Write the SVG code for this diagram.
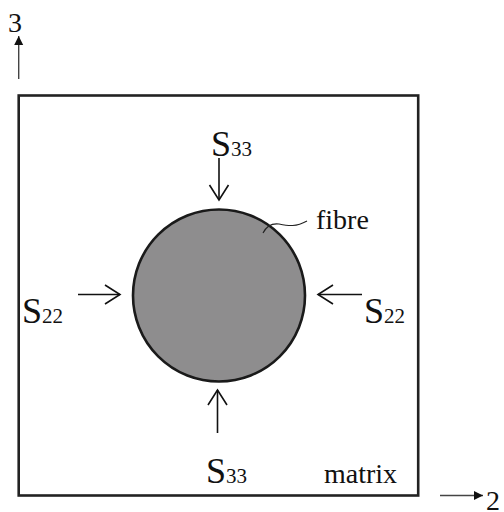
<svg xmlns="http://www.w3.org/2000/svg" width="504" height="512" viewBox="0 0 504 512">
<style>
.t{font-family:"Liberation Serif","Times New Roman",serif;fill:#111}
.s{font-size:36px}
.sub{font-size:21px}
.lbl{font-size:28px}
.load{stroke:#111;stroke-width:1.6;fill:none}
.axis{stroke:#444;stroke-width:1.4;fill:none}
</style>
<defs>
<marker id="open" markerUnits="userSpaceOnUse" markerWidth="24" markerHeight="24" viewBox="-18 -12 20 24" refX="0" refY="0" orient="auto">
<path d="M-15,-9.5 L0,0 L-15,9.5" fill="none" stroke="#111" stroke-width="1.6"/>
</marker>
<marker id="solid" markerUnits="userSpaceOnUse" markerWidth="12" markerHeight="12" viewBox="-10 -6 12 12" refX="0" refY="0" orient="auto">
<path d="M-9,-4.5 L0,0 L-9,4.5 Z" fill="#111"/>
</marker>
</defs>
<g id="matrix">
<rect x="18.7" y="95.5" width="399.5" height="400" fill="#fff" stroke="#222" stroke-width="2.6"/>
<text class="t lbl" x="324" y="483">matrix</text>
</g>
<g id="fibre">
<circle cx="219" cy="295.5" r="86" fill="#8e8d8e" stroke="#1a1a1a" stroke-width="2.6"/>
<text class="t lbl" x="316" y="229">fibre</text>
</g>
<g id="axis3">
<text class="t lbl" x="8" y="32" font-size="31">3</text>
</g>
<g id="axis2">
<text class="t lbl" x="486" y="510" font-size="29">2</text>
</g>
<g id="s33top"><text class="t s" x="211" y="156">S<tspan class="sub">33</tspan></text></g>
<g id="s33bottom"><text class="t s" x="206" y="483">S<tspan class="sub">33</tspan></text></g>
<g id="s22left"><text class="t s" x="22" y="323">S<tspan class="sub">22</tspan></text></g>
<g id="s22right"><text class="t s" x="364" y="323">S<tspan class="sub">22</tspan></text></g>
<g id="connectors">
<line class="axis" x1="18.7" y1="79" x2="18.7" y2="36" marker-end="url(#solid)"/>
<line class="axis" x1="440" y1="495.5" x2="483" y2="495.5" marker-end="url(#solid)"/>
<line class="load" x1="219" y1="158" x2="219" y2="200" marker-end="url(#open)"/>
<line class="load" x1="217.5" y1="433" x2="217.5" y2="390" marker-end="url(#open)"/>
<line class="load" x1="78" y1="294.5" x2="120" y2="294.5" marker-end="url(#open)"/>
<line class="load" x1="362" y1="294.5" x2="318" y2="294.5" marker-end="url(#open)"/>
<path d="M263,233 C266,227 271,223 279,224 C289,226 296,227 307,221" fill="none" stroke="#222" stroke-width="1.1"/>
</g>
</svg>
